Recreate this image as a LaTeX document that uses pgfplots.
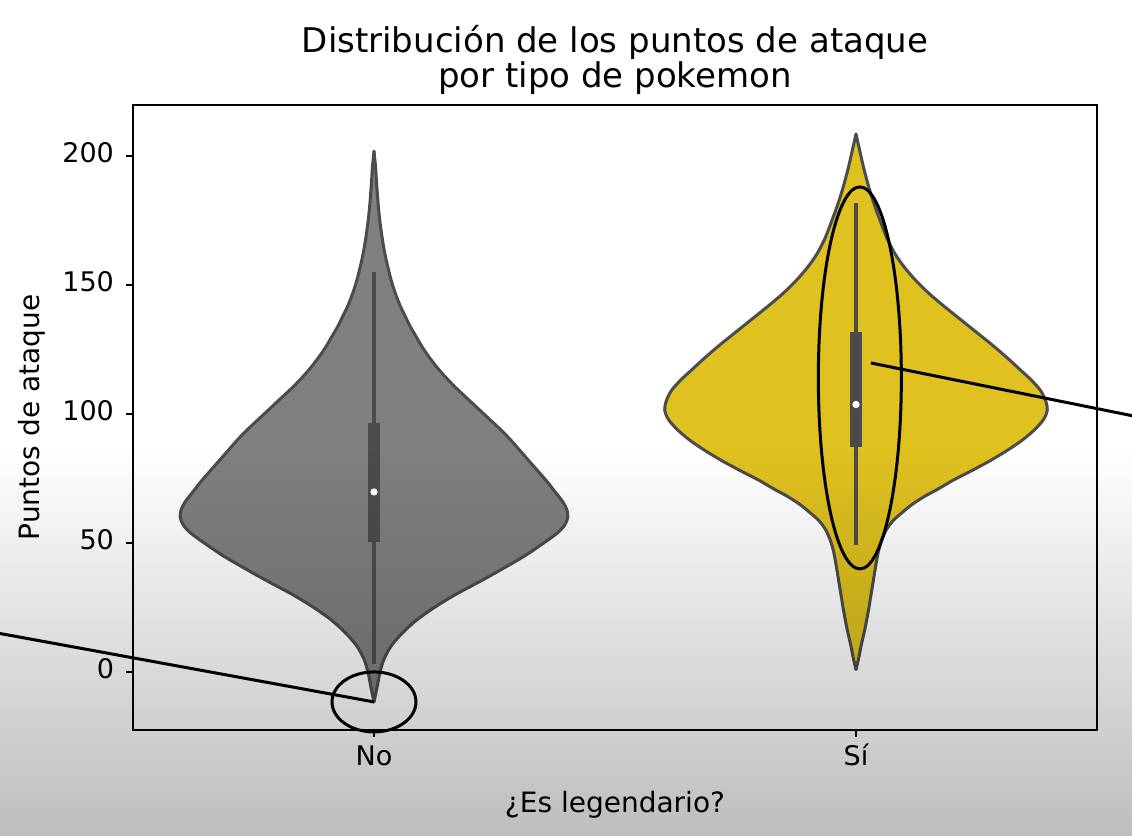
\documentclass[border=0pt]{standalone}
\usepackage{fontspec}
\setmainfont{DejaVu Sans}
\usepackage{pgfplots}
\usepackage{pgfplotstable}
\pgfplotsset{compat=1.18}
\usepgfplotslibrary{fillbetween}
\usetikzlibrary{fadings}

\definecolor{vgray}{RGB}{128,128,128}
\definecolor{vgold}{RGB}{223,193,32}
\definecolor{edge}{RGB}{76,76,76}

\tikzfading[name=fadeup, top color=transparent!100, bottom color=transparent!0]

% violin "No": y value, half width (in 1/480 of an x unit)
\pgfplotstableread{
y w
-11.6 0
-5 3.5
0 6
5 10
10 17
15 28
20 42
25 60
30 81
35 105
40 128
45 150
50 169
54 183
57 190
60 193
63 192
66 188
70 180
74 172
78 163
82 154
86 145
90 136
94 126
98 115
102 104
106 93
110 82
114 72
118 63
122 55
126 48
130 42
134 36
138 31
142 26
146 22
150 18.5
155 15
160 12
165 9.5
170 7.5
176 5.5
182 4
190 2.5
196 1.5
201.9 0
}\noviolin

% violin "Si": y value, half width (in 1/480 of an x unit)
\pgfplotstableread{
y w
1 0
5 2.5
10 5
16 8.5
23 12
30 15
36 17.5
42 20
47 22.5
51 25.5
55 30
58.5 36.5
61.5 45
65 56
68 68
71 82
74.4 97
78 115
82 134
86 151
90 166
94 178
98 187
101.6 190.5
105 189
109 184
113 175
117 164
122 150
127 135
132 119
137 103
142 87
147 72
152 59
157 48
162 39
168 31
175 24
182 17.5
189 12
196 7.3
202 3.8
208.5 0
}\siviolin

\begin{document}
\begin{tikzpicture}
\begin{axis}[
  at={(0pt,0pt)}, anchor=south west,
  scale only axis, width=482pt, height=312.5pt,
  xmin=-0.5, xmax=1.5, ymin=-22.48, ymax=219.8,
  xtick={0,1}, xticklabels={No,Sí},
  ytick={0,50,100,150,200},
  tick align=outside, tick pos=left,
  major tick length=3.5pt,
  every tick/.style={black, line width=0.8pt},
  axis line style={black, line width=1pt},
  ticklabel style={font=\fontsize{13.5}{15}\selectfont},
  typeset ticklabels with strut,
  yticklabel style={xshift=-2.5pt},
  /pgf/number format/assume math mode=true,
  xlabel={¿Es legendario?}, ylabel={Puntos de ataque},
  label style={font=\fontsize{14}{16}\selectfont},
  xlabel style={at={(axis description cs:0.5,-0.1328)}, anchor=base, inner sep=0pt},
  ylabel style={at={(axis description cs:-0.0965,0.5)}, anchor=base, inner sep=0pt},
  title={Distribución de los puntos de ataque\\por tipo de pokemon},
  title style={at={(axis description cs:0.5,1)}, anchor=south, yshift=-1pt, inner sep=0pt,
    align=center, font=\fontsize{17}{17.5}\selectfont},
  clip=false,
]
\begin{pgfonlayer}{axis background}
\fill[white] (axis description cs:-0.138,-0.1696) rectangle (axis description cs:1.0363,1.168);
\end{pgfonlayer}
% No violin
\addplot[name path=noR, draw=edge, line width=1.5pt, smooth, line cap=round] table[x expr=\thisrow{w}/480, y=y] {\noviolin};
\addplot[name path=noL, draw=edge, line width=1.5pt, smooth, line cap=round] table[x expr=-\thisrow{w}/480, y=y] {\noviolin};
\addplot[vgray] fill between[of=noR and noL];
% Si violin
\addplot[name path=siR, draw=edge, line width=1.5pt, smooth, line cap=round] table[x expr=1+\thisrow{w}/480, y=y] {\siviolin};
\addplot[name path=siL, draw=edge, line width=1.5pt, smooth, line cap=round] table[x expr=1-\thisrow{w}/480, y=y] {\siviolin};
\addplot[vgold] fill between[of=siR and siL];
% inner boxes
\addplot[edge, line width=2pt] coordinates {(0,3) (0,155)};
\addplot[edge, line width=6pt] coordinates {(0,50.4) (0,96.5)};
\addplot[only marks, mark=*, mark size=1.6pt, white] coordinates {(0,69.8)};
\addplot[edge, line width=2pt] coordinates {(1,49.2) (1,181.9)};
\addplot[edge, line width=6pt] coordinates {(1,87.2) (1,131.8)};
\addplot[only marks, mark=*, mark size=1.6pt, white] coordinates {(1,103.7)};
% annotations
\draw[black, line width=1.5pt] (axis cs:-0.781,15.1) -- (axis cs:0,-11.6);
\draw[black, line width=1.5pt] (axis cs:0,-11.6) ellipse [x radius=21pt, y radius=15pt];
\draw[black, line width=1.5pt] (axis cs:1.008,114) ellipse [x radius=20.75pt, y radius=95.5pt];
\draw[black, line width=1.5pt] (axis cs:1.031,119.8) -- (axis cs:1.577,99.2);
\begin{pgfonlayer}{axis foreground}
\fill[black, fill opacity=0.26, path fading=fadeup] (axis description cs:-0.138,-0.1696) rectangle (axis description cs:1.0363,0.448);
\end{pgfonlayer}
\end{axis}
\pgfresetboundingbox
\useasboundingbox (-66.5pt,-53pt) rectangle (499.5pt,365pt);
\end{tikzpicture}
\end{document}
